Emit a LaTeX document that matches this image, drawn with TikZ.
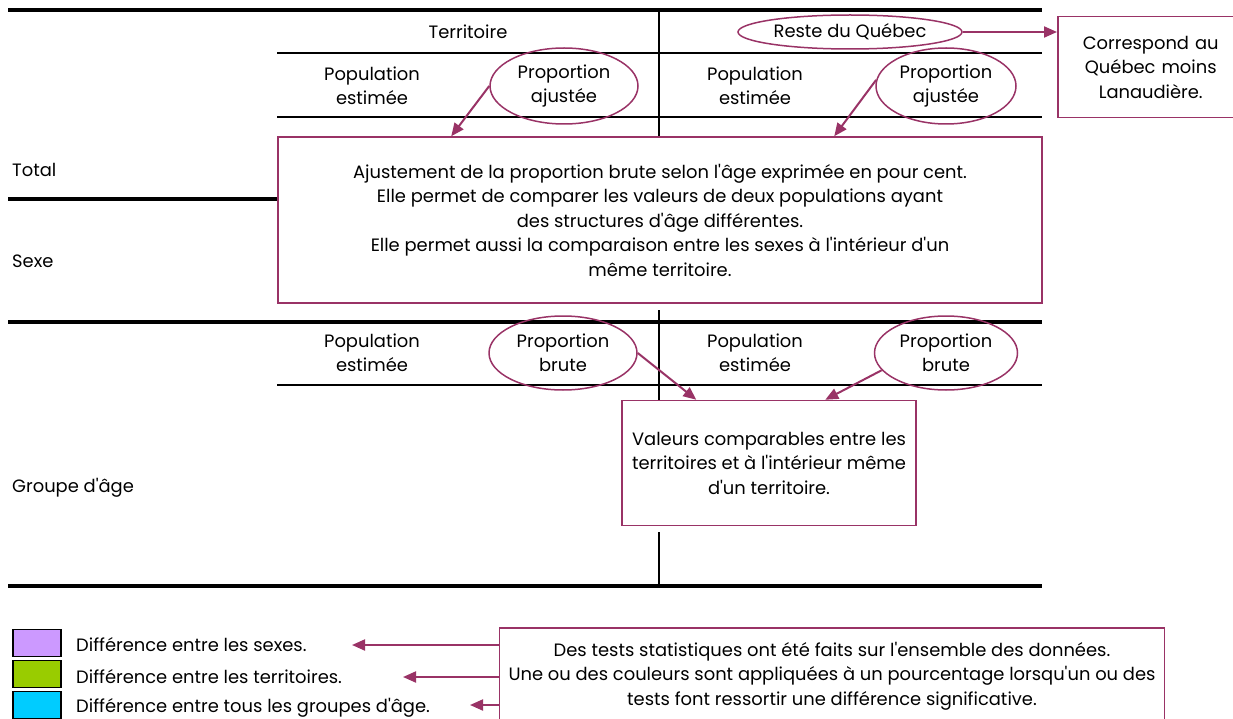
\documentclass[tikz,border=0pt]{standalone}
\usepackage{fontspec}
\setmainfont{Poppins}
\usepackage{tikz}
\usetikzlibrary{shapes.geometric}
\usetikzlibrary{arrows.meta}
\definecolor{plum}{RGB}{153,51,102}
\definecolor{lilac}{RGB}{204,153,255}
\definecolor{lime}{RGB}{153,204,0}
\definecolor{sky}{RGB}{0,204,255}
\newcommand{\ap}{\textquotesingle}

\begin{document}
\begin{tikzpicture}[x=1pt,y=-1pt,
        every node/.style={font=\fontsize{17.9}{24.5}\selectfont, align=center, inner sep=0pt},
        rule/.style={line width=3.5pt},
        hair/.style={line width=1.2pt},
        oval/.style={ellipse, draw=plum, line width=1.5pt},
        note/.style={draw=plum, line width=1.5pt},
        pointer/.style={plum, line width=2pt, -{Triangle[length=13pt,width=11pt]}},
        swatch/.style={draw=black, line width=1.5pt}]
        \useasboundingbox (0,0) rectangle (1233,719);

        % Table rules
        \draw[rule] (8,10) -- (1042,10);
        \draw[rule] (8,199) -- (278,199);
        \draw[rule] (8,322) -- (1042,322);
        \draw[rule] (8,586) -- (1042,586);
        \draw[hair] (277,53) -- (1042,53);
        \draw[hair] (277,117) -- (1042,117);
        \draw[hair] (277,385) -- (1042,385);
        \draw[hair] (659,10) -- (659,137);
        \draw[hair] (659,310) -- (659,400);
        \draw[hair] (659,532) -- (659,586);

        % Headers
        \node (terr) at (468,32) {Territoire};
        \node (pe1) at (372,86) {Population\\estimée};
        \node (pe2) at (755,86) {Population\\estimée};
        \node (pe3) at (372,353) {Population\\estimée};
        \node (pe4) at (755,353) {Population\\estimée};
        \node[anchor=west] (total) at (12,170) {Total};
        \node[anchor=west] (sexe) at (12,261) {Sexe};
        \node[anchor=west] (age) at (12,488) {Groupe d\ap âge};

        % Circled headers
        \node[oval, minimum width=224pt, minimum height=34pt] (rq) at (850,32) {Reste du Québec};
        \node[oval, minimum width=148pt, minimum height=76pt] (pa1) at (564,86) {Proportion\\ajustée};
        \node[oval, minimum width=140pt, minimum height=76pt] (pa2) at (946,86) {Proportion\\ajustée};
        \node[oval, minimum width=148pt, minimum height=74pt] (pb1) at (563,353) {Proportion\\brute};
        \node[oval, minimum width=143pt, minimum height=74pt] (pb2) at (946,353) {Proportion\\brute};

        % Explanation boxes
        \node[note, fill=white, minimum width=764pt, minimum height=166pt] (adj) at (660,220)
            {Ajustement de la proportion brute selon l\ap âge exprimée en pour cent.\\
             Elle permet de comparer les valeurs de deux populations ayant\\
             des structures d\ap âge différentes.\\
             Elle permet aussi la comparaison entre les sexes à l\ap intérieur d\ap un\\
             même territoire.};
        \node[note, fill=white, minimum width=294pt, minimum height=125pt] (val) at (769,463)
            {Valeurs comparables entre les\\territoires et à l\ap intérieur même\\d\ap un territoire.};
        \node[note, anchor=west, minimum width=186pt, minimum height=101pt, text width=178pt] (qc) at (1057,67)
            {Correspond au\\Québec moins\\Lanaudière.\hspace*{8pt}};
        \node[note, minimum width=665pt, minimum height=96pt] (tests) at (832,676)
            {Des tests statistiques ont été faits sur l\ap ensemble des données.\\
             Une ou des couleurs sont appliquées à un pourcentage lorsqu\ap un ou des\\
             tests font ressortir une différence significative.};

        % Legend
        \node[swatch, fill=lilac, minimum width=48pt, minimum height=27pt] (sw1) at (37,643) {};
        \node[swatch, fill=lime, minimum width=48pt, minimum height=27pt] (sw2) at (37,674) {};
        \node[swatch, fill=sky, minimum width=48pt, minimum height=27pt] (sw3) at (37,705) {};
        \node[anchor=west] (lg1) at (76,645) {Différence entre les sexes.};
        \node[anchor=west] (lg2) at (76,677) {Différence entre les territoires.};
        \node[anchor=west] (lg3) at (76,708) {Différence entre tous les groupes d\ap âge.};
        \coordinate (t1) at (352,645);
        \coordinate (t2) at (403,677);
        \coordinate (t3) at (470,705);

        % Arrows
        \draw[pointer] (rq.east) -- (rq.east -| qc.west);
        \draw[pointer] (pa1.west) -- ([xshift=174pt]adj.north west);
        \draw[pointer] (pa2.175) -- ([xshift=557pt]adj.north west);
        \draw[pointer] (pb1.east) -- ([xshift=75pt]val.north west);
        \draw[pointer] (pb2.195) -- ([xshift=204pt]val.north west);
        \draw[pointer] (tests.west |- t1) -- (t1);
        \draw[pointer] (tests.west |- t2) -- (t2);
        \draw[pointer] (tests.west |- t3) -- (t3);
\end{tikzpicture}
\end{document}
